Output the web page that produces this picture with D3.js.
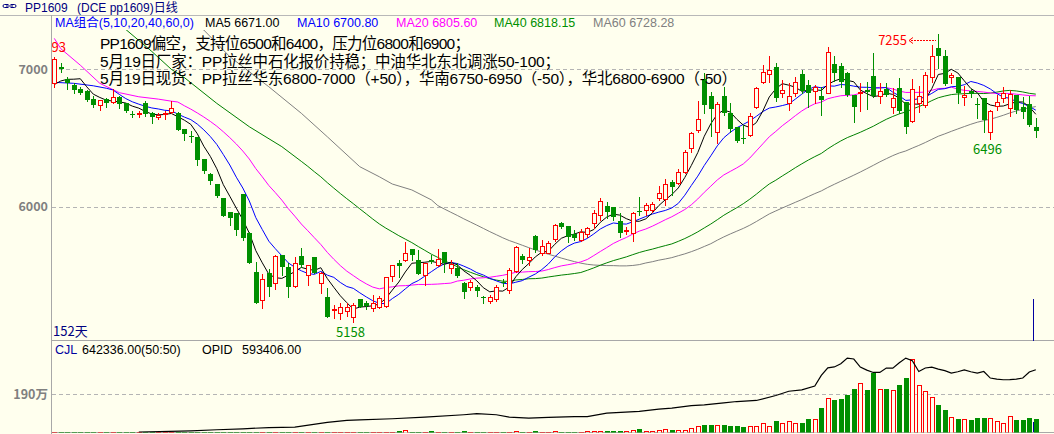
<!DOCTYPE html>
<html>
<head>
<meta charset="utf-8">
<script src="https://cdn.jsdelivr.net/npm/d3@7"></script>
<style>
    html, body { margin: 0; padding: 0; background: #ffffee; overflow: hidden; }
    svg { display: block; }
    text { font-family: "Noto Sans CJK SC", "Noto Sans", sans-serif; }
    text.mix { font-family: "Liberation Sans", "Noto Sans CJK SC", sans-serif; }
</style>
</head>
<body>
<div id="chart"></div>
<script>
// PP1609 日线, 152天
const opens = [
    6898,7015,6927,6886,6859,6844,6784,6742,6782,6762,
    6801,6757,6675,6672,6757,6680,6651,6675,6691,6680,
    6563,6518,6505,6345,6238,6165,6066,5961,5956,6092,
    5806,5527,5321,5515,5447,5649,5563,5423,5641,5503,
    5632,5443,5345,5250,5229,5243,5195,5326,5301,5261,
    5272,5277,5496,5588,5612,5694,5612,5503,5612,5576,
    5673,5551,5552,5443,5418,5418,5340,5316,5326,5450,
    5394,5534,5644,5612,5787,5665,5665,5763,5879,5860,
    5801,5758,5801,5879,5940,6005,5996,5898,5823,5806,
    5966,5976,5976,6061,6054,6182,6175,6255,6425,6558,
    6927,6806,6546,6806,6684,6582,6502,6522,6723,6910,
    6966,7015,6825,6753,6825,6966,6886,6844,6806,6830,
    7039,7024,6971,6813,6825,6850,6951,6806,6854,6728,
    6862,6764,6626,6753,6740,6946,7153,7097,6946,6946,
    6801,6844,6745,6789,6546,6733,6789,6716,6813,6723,
    6747,6578
];
const highs = [
    7093,7048,6946,6898,6869,6849,6806,6777,6789,6854,
    6806,6757,6694,6694,6771,6691,6680,6699,6771,6688,
    6563,6550,6505,6345,6247,6165,6066,5961,5956,6092,
    5816,5600,5510,5544,5649,5649,5588,5632,5697,5576,
    5632,5527,5406,5285,5297,5297,5301,5326,5315,5357,
    5348,5490,5578,5612,5741,5694,5685,5588,5649,5690,
    5673,5612,5588,5454,5466,5430,5350,5357,5430,5472,
    5556,5714,5656,5697,5794,5758,5753,5872,5891,5860,
    5830,5835,5855,5976,6061,6037,5996,5956,5855,5964,
    6073,6025,6037,6151,6199,6194,6272,6413,6546,6771,
    6971,6837,6764,6869,6757,6582,6595,6680,6869,7031,
    7097,7048,6922,6898,6946,6995,6922,6886,6874,7164,
    7097,7044,6983,6813,6898,6910,7116,6898,6898,6862,
    6934,6764,6927,6878,6983,7177,7255,7140,6975,6946,
    6878,6854,6789,6789,6704,6813,6874,6849,6813,6801,
    6806,6643
];
const lows = [
    6873,6983,6854,6830,6820,6771,6723,6704,6723,6758,
    6716,6691,6651,6651,6660,6611,6638,6640,6680,6558,
    6485,6468,6303,6247,6165,6068,5934,5867,5794,5760,
    5588,5297,5261,5350,5399,5503,5345,5418,5560,5430,
    5520,5370,5199,5188,5181,5204,5158,5268,5253,5243,
    5263,5272,5461,5490,5607,5612,5508,5430,5588,5568,
    5527,5520,5490,5333,5396,5350,5301,5301,5316,5423,
    5374,5527,5588,5576,5673,5649,5661,5753,5843,5746,
    5758,5753,5782,5843,5903,5916,5903,5777,5801,5753,
    5940,5940,5964,6049,6012,6085,6165,6243,6400,6546,
    6684,6515,6461,6667,6546,6473,6461,6515,6716,6903,
    6910,6771,6796,6704,6806,6825,6728,6757,6667,6825,
    6917,6869,6806,6619,6699,6710,6801,6757,6806,6684,
    6680,6539,6619,6691,6728,6910,7007,6886,6898,6757,
    6740,6801,6643,6546,6496,6704,6764,6660,6680,6643,
    6587,6505
];
const closes = [
    7073,7005,6898,6851,6830,6777,6740,6777,6753,6796,
    6747,6699,6665,6680,6675,6655,6667,6680,6716,6558,
    6529,6512,6340,6262,6189,6078,5934,5916,5830,5770,
    5588,5297,5472,5418,5641,5563,5418,5593,5576,5576,
    5520,5515,5199,5257,5268,5268,5285,5268,5277,5297,
    5333,5486,5573,5568,5665,5649,5508,5588,5600,5617,
    5588,5583,5496,5381,5454,5389,5333,5345,5418,5443,
    5540,5704,5612,5632,5685,5714,5734,5867,5850,5782,
    5770,5818,5843,5956,6044,5964,5923,5806,5828,5952,
    5960,6012,6020,6097,6165,6146,6255,6400,6534,6636,
    6740,6709,6747,6684,6563,6480,6495,6660,6862,6983,
    6995,6789,6849,6806,6910,6844,6830,6869,6777,7128,
    6971,6910,6813,6723,6832,6835,6806,6844,6813,6789,
    6699,6582,6854,6806,6958,7097,7097,6893,6955,6825,
    6810,6820,6740,6631,6699,6764,6830,6820,6704,6691,
    6595,6553
];
// 成交量 CJL
const volumes = [
    4000,6000,3000,5000,4000,6000,5000,3000,4000,6000,
    5000,7000,4000,3000,6000,5000,4000,4000,7000,8000,
    9000,8000,12000,10000,11000,9000,14000,12000,15000,18000,
    20000,25000,35000,28000,38000,26000,24000,30000,28000,22000,
    25000,30000,45000,40000,42000,38000,48000,35000,30000,32000,
    34000,40000,45000,50000,133000,45000,40000,38000,50000,36000,
    42000,38000,40000,55000,35000,40000,30000,32000,38000,35000,
    45000,60000,40000,42000,50000,38000,40000,55000,45000,48000,
    42000,46000,50000,60000,83000,60000,55000,70000,83000,133000,
    167000,83000,83000,133000,182000,133000,133000,133000,246000,329000,
    378000,378000,378000,378000,329000,329000,280000,329000,329000,462000,
    329000,589000,491000,589000,476000,476000,673000,673000,1213000,1689000,
    1606000,1655000,1851000,2146000,2424000,2097000,2946000,2146000,2146000,2097000,
    2342000,2671000,3604000,2342000,2048000,1738000,1360000,1115000,756000,673000,
    673000,624000,722000,722000,722000,574000,476000,820000,624000,624000,
    722000,642336
];
// 持仓量 OPID: [序号, 持仓]
const openInterest = [
    [13,3000],[21,16000],[25,26000],[29,35000],[33,47000],[37,51000],[42,95000],
    [45,114000],[47,120000],[52,130000],[57,146000],[63,168000],[65,178000],[68,168000],
    [70,146000],[73,136000],[76,144000],[80,151000],[82,151000],[85,184000],[90,199000],
    [93,221000],[95,231000],[98,255000],[100,262000],[103,280000],[105,293000],[108,303000],
    [111,350000],[113,390000],[115,404000],[117,440000],[118,540000],[119,612000],[120,620000],
    [121,650000],[122,704000],[123,695000],[124,619000],[125,590000],[126,568000],[127,568000],
    [128,609000],[129,609000],[130,660000],[131,704000],[132,680000],[133,577000],[134,610000],
    [135,619000],[136,600000],[137,585000],[138,562000],[139,575000],[140,593000],[141,575000],
    [142,562000],[143,577000],[144,515000],[145,505000],[146,499000],[147,500000],[148,505000],
    [149,515000],[150,572000],[151,593406]
];

// 均线: 窗口未满之前的读数 [序号, 价格], 之后由收盘价计算
const maPeriods = [5, 10, 20, 40, 60];
const ma5Head = [[0,6889],[1,6915],[2,6927],[3,6928]];
const ma10Head = [[0,6905],[3,6898],[6,6880],[8,6862]];
const ma20Head = [[0,7225],[1,7150],[4,7030],[7,6898],[10,6830],[13,6800],[16,6783],[18,6768]];
const ma40Head = [[10,7330],[11,7290],[15,7130],[18,7000],[20,6940],[25,6752],[30,6582],[35,6437],[38,6330]];
const ma60Head = [[22,7330],[23,7286],[27,7092],[33,6873],[38,6680],[42,6509],[47,6291],[50,6218],[52,6165],[55,6122],[58,6050]];
const maColors = ['#000000', '#0000ff', '#ff00ff', '#008000', '#808080'];
const maLabels = ['MA5 6671.00', 'MA10 6700.80', 'MA20 6805.60', 'MA40 6818.15', 'MA60 6728.28'];

const priceTicks = [6000, 7000];
const volumeTicks = [1900000];
const volumeTickLabels = ['190万'];
const markHigh = [0, 136];
const markLow = [46, 144];

const notes = [
    'PP1609偏空，支持位6500和6400，压力位6800和6900；',
    '5月19日厂家：PP拉丝中石化报价持稳；中油华北东北调涨50-100；',
    '5月19日现货：PP拉丝华东6800-7000（+50），华南6750-6950（-50），华北6800-6900（-50）'
];

const RED = '#ff0000';
const GREEN = '#008f00';
const BG = '#ffffee';
const BORDER = '#a8a8a8';

class KLineChart {
    constructor(containerId) {
        this.container = d3.select(`#${containerId}`);
        this.width = 1054;
        this.height = 434;
        this.left = 52;
        this.mainTop = 30;
        this.mainBottom = 341;
        this.volBottom = 432.5;
        this.init();
    }

    init() {
        this.svg = this.container.append('svg')
            .attr('width', this.width)
            .attr('height', this.height)
            .style('background', BG);

        const defs = this.svg.append('defs');
        defs.append('clipPath').attr('id', 'clip-main').append('rect')
            .attr('x', this.left).attr('y', this.mainTop)
            .attr('width', this.width - this.left).attr('height', this.mainBottom - this.mainTop);
        defs.append('clipPath').attr('id', 'clip-vol').append('rect')
            .attr('x', this.left).attr('y', this.mainBottom)
            .attr('width', this.width - this.left).attr('height', this.volBottom - this.mainBottom);

        this.x = d3.scaleLinear().domain([0, closes.length - 1]).range([54.3, 1035.8]);
        this.y = d3.scaleLinear().domain([6000, 7000]).range([206.7, 69.3]);
        this.yVol = d3.scaleLinear().domain([0, 1900000]).range([this.volBottom, 394]);
        this.yOi = d3.scaleLinear().domain([0, 700000]).range([this.volBottom, this.volBottom - 74]);
        this.cx = i => Math.round(this.x(i));
    }

    render() {
        this.drawFrame();
        this.drawGrid();
        this.drawMA();
        this.drawCandles();
        this.drawVolume();
        this.drawTexts();
    }

    drawFrame() {
        const g = this.svg.append('g').attr('stroke', BORDER).attr('stroke-width', 1);
        g.append('line').attr('x1', 0).attr('x2', this.width).attr('y1', 15.5).attr('y2', 15.5).attr('stroke', '#b8b8b8');
        g.append('line').attr('x1', this.left - 0.5).attr('x2', this.left - 0.5).attr('y1', 15).attr('y2', 434);
        g.append('line').attr('x1', this.left).attr('x2', this.width).attr('y1', 340.5).attr('y2', 340.5);
        g.append('line').attr('x1', this.left).attr('x2', this.width).attr('y1', 432.5).attr('y2', 432.5);

        // 标题栏图标
        this.svg.append('path')
            .attr('d', 'M8.5,4.5 h-4 a1.5,1.5 0 0 0 0,3 h4 M10.5,4.5 h4 a1.5,1.5 0 0 1 0,3 h-4 M6,6 h7')
            .attr('fill', 'none').attr('stroke', '#000080').attr('stroke-width', 1);
    }

    drawGrid() {
        const g = this.svg.append('g')
            .attr('stroke', '#b4b4b4').attr('stroke-dasharray', '4,3').attr('stroke-width', 1);
        priceTicks.forEach(t => {
            const yy = Math.round(this.y(t)) + 0.5;
            g.append('line').attr('x1', this.left).attr('x2', this.width).attr('y1', yy).attr('y2', yy);
        });
        volumeTicks.forEach(t => {
            const yy = Math.round(this.yVol(t)) + 0.5;
            g.append('line').attr('x1', this.left).attr('x2', this.width).attr('y1', yy).attr('y2', yy);
        });

        const lab = this.svg.append('g')
            .attr('fill', '#808080').attr('font-weight', 'bold')
            .attr('text-anchor', 'end');
        priceTicks.forEach(t => {
            lab.append('text').attr('x', 48).attr('y', this.y(t) + 4.5)
                .attr('font-family', 'Liberation Sans').attr('font-size', 12.5).text(t);
        });
        volumeTicks.forEach((t, k) => {
            lab.append('text').attr('x', 48).attr('y', this.yVol(t) + 5)
                .attr('font-size', 12.5).text(volumeTickLabels[k]);
        });
    }

    movingAverage(period, head) {
        const pts = head.slice();
        let sum = 0;
        for (let i = 0; i < closes.length; i++) {
            sum += closes[i];
            if (i >= period) sum -= closes[i - period];
            if (i >= period - 1) pts.push([i, sum / period]);
        }
        return pts;
    }

    drawMA() {
        const heads = [ma5Head, ma10Head, ma20Head, ma40Head, ma60Head];
        const line = d3.line().x(d => this.x(d[0])).y(d => this.y(d[1]));
        const g = this.svg.append('g').attr('clip-path', 'url(#clip-main)');
        // 先画长周期
        for (let k = maPeriods.length - 1; k >= 0; k--) {
            g.append('path')
                .datum(this.movingAverage(maPeriods[k], heads[k]))
                .attr('d', line)
                .attr('fill', 'none')
                .attr('stroke', maColors[k])
                .attr('stroke-width', 1);
        }
    }

    drawCandles() {
        const data = d3.range(closes.length).map(i => ({
            i, o: opens[i], h: highs[i], l: lows[i], c: closes[i], up: closes[i] >= opens[i]
        }));
        const g = this.svg.append('g').attr('clip-path', 'url(#clip-main)')
            .attr('shape-rendering', 'crispEdges');

        data.forEach(d => {
            const cx = this.cx(d.i);
            const yTop = Math.round(this.y(Math.max(d.o, d.c)));
            const yBot = Math.round(this.y(Math.min(d.o, d.c)));
            const yH = Math.round(this.y(d.h));
            const yL = Math.round(this.y(d.l));
            if (d.up) {
                if (yH < yTop) g.append('line').attr('x1', cx + 0.5).attr('x2', cx + 0.5)
                    .attr('y1', yH).attr('y2', yTop).attr('stroke', RED);
                if (yL > yBot) g.append('line').attr('x1', cx + 0.5).attr('x2', cx + 0.5)
                    .attr('y1', yBot + 1).attr('y2', yL + 1).attr('stroke', RED);
                g.append('path')
                    .attr('d', `M${cx - 1.5},${yTop + 0.5}h4v${yBot - yTop}h-4Z`)
                    .attr('fill', BG).attr('stroke', RED);
            } else {
                g.append('line').attr('x1', cx + 0.5).attr('x2', cx + 0.5)
                    .attr('y1', yH).attr('y2', yL + 1).attr('stroke', GREEN);
                g.append('rect').attr('x', cx - 2).attr('y', yTop)
                    .attr('width', 5).attr('height', Math.max(yBot - yTop, 1))
                    .attr('fill', GREEN);
            }
        });

        // 光标竖线
        const xc = Math.round(this.x(150.5)) + 0.5;
        this.svg.append('line').attr('x1', xc).attr('x2', xc).attr('y1', 299).attr('y2', 341)
            .attr('stroke', '#0000a0');
    }

    drawVolume() {
        const g = this.svg.append('g').attr('clip-path', 'url(#clip-vol)')
            .attr('shape-rendering', 'crispEdges');
        const base = Math.round(this.volBottom);
        volumes.forEach((v, i) => {
            const cx = this.cx(i);
            const yv = Math.round(this.yVol(v));
            if (closes[i] >= opens[i]) {
                g.append('path')
                    .attr('d', `M${cx - 1.5},${base}V${yv + 0.5}h4V${base}`)
                    .attr('fill', BG).attr('stroke', RED);
            } else {
                g.append('rect').attr('x', cx - 2).attr('y', yv)
                    .attr('width', 5).attr('height', Math.max(base - yv, 0))
                    .attr('fill', GREEN);
            }
        });

        const line = d3.line().x(d => this.x(d[0])).y(d => this.yOi(d[1]));
        this.svg.append('path').datum(openInterest)
            .attr('clip-path', 'url(#clip-vol)')
            .attr('d', line).attr('fill', 'none')
            .attr('stroke', '#000000').attr('stroke-width', 1.2);

        const xc = Math.round(this.x(150.5)) + 0.5;
        this.svg.append('line').attr('x1', xc).attr('x2', xc).attr('y1', 422).attr('y2', 432)
            .attr('stroke', '#0000a0');
    }

    drawTexts() {
        const svg = this.svg;

        // 标题
        svg.append('text').attr('class', 'mix').attr('x', 25).attr('y', 11.5).attr('font-size', 12)
            .attr('fill', '#000080').text('PP1609');
        svg.append('text').attr('class', 'mix').attr('x', 77).attr('y', 11.5).attr('font-size', 12)
            .attr('fill', '#000080').text('(DCE pp1609)日线');

        // 均线标题
        svg.append('text').attr('class', 'mix').attr('x', 55).attr('y', 27).attr('font-size', 12.5)
            .attr('fill', '#0000ff').text(`MA组合(${maPeriods.join(',')},0)`);
        const maX = [205, 297, 396, 494, 593];
        const maTextColors = ['#000000', '#0000ff', '#ff00ff', '#009000', '#808080'];
        maLabels.forEach((t, k) => {
            svg.append('text').attr('class', 'mix').attr('x', maX[k]).attr('y', 27).attr('font-size', 12.5)
                .attr('fill', maTextColors[k]).text(t);
        });

        // 文字说明
        const noteWidths = [370, 460, 637];
        notes.forEach((t, k) => {
            svg.append('text').attr('class', 'mix').attr('x', 100).attr('y', 49 + k * 17.5)
                .attr('font-size', 15.5).attr('fill', '#000000')
                .attr('textLength', noteWidths[k]).attr('lengthAdjust', 'spacing')
                .text(t);
        });

        // 高低点标注
        const mg = svg.append('g').attr('clip-path', 'url(#clip-main)').attr('font-size', 13);
        markHigh.forEach(i => {
            const cx = this.cx(i);
            const yh = this.y(highs[i]);
            if (i === 136) {
                const ya = Math.round(yh + 6) + 0.5;
                mg.append('text').attr('x', cx - 31).attr('y', ya + 4.5)
                    .attr('text-anchor', 'end').attr('fill', RED).text(highs[i]);
                mg.append('path').attr('d', `M${cx - 25},${ya - 3}L${cx - 29},${ya}L${cx - 25},${ya + 3}`)
                    .attr('fill', 'none').attr('stroke', RED);
                mg.append('line').attr('x1', cx - 27).attr('x2', cx - 2).attr('y1', ya).attr('y2', ya)
                    .attr('stroke', RED).attr('stroke-dasharray', '2,1');
            } else {
                mg.append('text').attr('x', cx - 17).attr('y', yh - 4.5)
                    .attr('fill', RED).text(highs[i]);
            }
        });
        markLow.forEach(i => {
            const cx = this.cx(i);
            mg.append('text').attr('x', cx - 17).attr('y', this.y(lows[i]) + 15)
                .attr('fill', GREEN).text(lows[i]);
        });

        svg.append('text').attr('x', 53).attr('y', 336).attr('font-size', 13)
            .attr('fill', '#000080').text(`${closes.length}天`);

        // 成交量标题
        const vy = 354;
        svg.append('text').attr('class', 'mix').attr('x', 55).attr('y', vy).attr('font-size', 12.5).attr('fill', '#0000a0').text('CJL');
        svg.append('text').attr('class', 'mix').attr('x', 82).attr('y', vy).attr('font-size', 12.5).attr('fill', '#000000')
            .text(`${volumes[volumes.length - 1].toFixed(2)}(50:50)`);
        svg.append('text').attr('class', 'mix').attr('x', 202).attr('y', vy).attr('font-size', 12.5).attr('fill', '#000000').text('OPID');
        svg.append('text').attr('class', 'mix').attr('x', 242).attr('y', vy).attr('font-size', 12.5).attr('fill', '#000000')
            .text(openInterest[openInterest.length - 1][1].toFixed(2));
    }
}

const chart = new KLineChart('chart');
chart.render();
</script>
</body>
</html>
